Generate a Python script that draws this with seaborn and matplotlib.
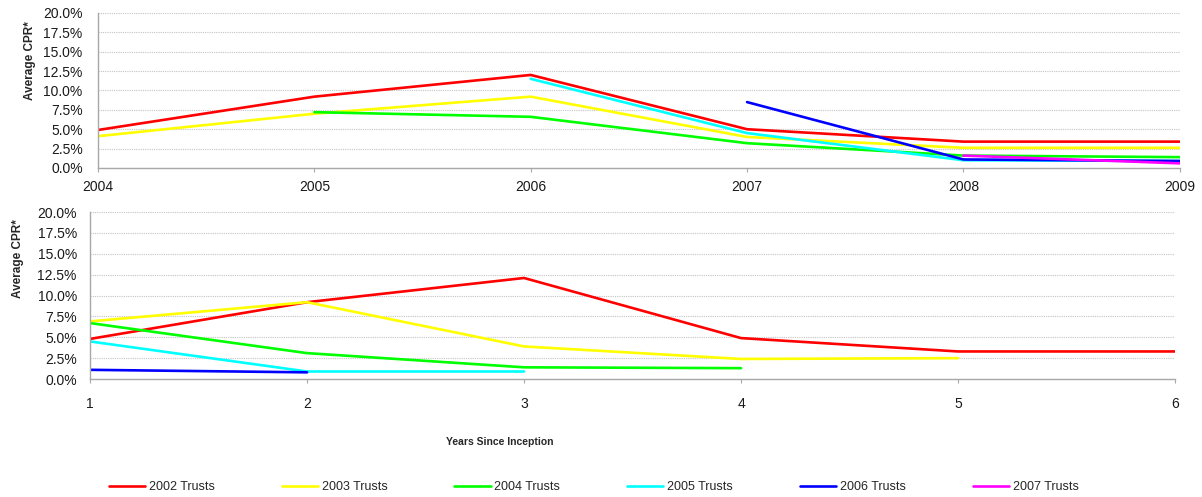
import numpy as np
import pandas as pd
import matplotlib
matplotlib.use("Agg")
import matplotlib.pyplot as plt
import seaborn as sns
from matplotlib.ticker import PercentFormatter

# --- data (CPR in %) ---
years = [2004, 2005, 2006, 2007, 2008, 2009]
top_2002 = [4.9, 9.2, 12.0, 5.0, 3.4, 3.4]
top_2003 = [4.1, 7.0, 9.2, 4.0, 2.6, 2.6]
top_2004 = [np.nan, 7.2, 6.6, 3.2, 1.6, 1.4]
top_2005 = [np.nan, np.nan, 11.5, 4.5, 1.0, 0.9]
top_2006 = [np.nan, np.nan, np.nan, 8.5, 1.1, 0.9]
top_2007 = [np.nan, np.nan, np.nan, np.nan, 1.6, 0.6]

seasoning = [1, 2, 3, 4, 5, 6]
bot_2002 = [4.8, 9.2, 12.1, 4.9, 3.3, 3.3]
bot_2003 = [6.9, 9.2, 3.9, 2.4, 2.5, np.nan]
bot_2004 = [6.7, 3.1, 1.4, 1.3, np.nan, np.nan]
bot_2005 = [4.5, 0.9, 0.9, np.nan, np.nan, np.nan]
bot_2006 = [1.1, 0.8, np.nan, np.nan, np.nan, np.nan]
bot_2007 = [1.6, np.nan, np.nan, np.nan, np.nan, np.nan]

trusts = ["2002 Trusts", "2003 Trusts", "2004 Trusts",
          "2005 Trusts", "2006 Trusts", "2007 Trusts"]
colors = ["#ff0000", "#ffff00", "#00ff00", "#00ffff", "#0000ff", "#ff00ff"]

top_df = pd.DataFrame({"x": years * 6,
                       "cpr": top_2002 + top_2003 + top_2004 + top_2005 + top_2006 + top_2007,
                       "trust": np.repeat(trusts, 6)}).dropna()
bot_df = pd.DataFrame({"x": seasoning * 6,
                       "cpr": bot_2002 + bot_2003 + bot_2004 + bot_2005 + bot_2006 + bot_2007,
                       "trust": np.repeat(trusts, 6)}).dropna()

sns.set_style("white")
plt.rcParams['font.family'] = ['Liberation Sans', 'DejaVu Sans']
palette = dict(zip(trusts, colors))

fig = plt.figure(figsize=(12.02, 4.97), dpi=100)
ax1 = fig.add_axes([0.0815, 0.662, 0.900, 0.312])
ax2 = fig.add_axes([0.0749, 0.2374, 0.9027, 0.336])

sns.lineplot(data=top_df, x="x", y="cpr", hue="trust", hue_order=trusts,
             palette=palette, lw=1.9, ax=ax1, legend=False, sort=True)
sns.lineplot(data=bot_df, x="x", y="cpr", hue="trust", hue_order=trusts,
             palette=palette, lw=1.9, ax=ax2, legend=False, sort=True)

for ax, xs, xpad, ypad in [(ax1, years, 6, 7.5), (ax2, seasoning, 10, 6)]:
    ax.set_xlim(xs[0], xs[-1])
    ax.set_ylim(0, 20)
    ax.set_xticks(xs)
    ax.set_yticks(np.arange(0, 20.1, 2.5))
    ax.yaxis.set_major_formatter(PercentFormatter(decimals=1))
    ax.grid(axis="y", color="#c4c4c4", ls=(0, (1, 1)), lw=0.8)
    ax.set_axisbelow(True)
    for s in ["top", "right"]:
        ax.spines[s].set_visible(False)
    for s in ["left", "bottom"]:
        ax.spines[s].set_color("#a8a8a8")
        ax.spines[s].set_linewidth(1.0)
    ax.tick_params(axis="x", bottom=True, length=3, color="#a8a8a8",
                   labelsize=10, pad=xpad, labelcolor="#1a1a1a")
    ax.tick_params(axis="y", left=False, labelsize=10, pad=ypad,
                   labelcolor="#1a1a1a")
    ax.set_xlabel("")
    ax.set_ylabel("")

fig.text(0.025, 0.879, "Average CPR*", rotation=90, fontsize=8.5,
         fontweight="bold", ha="center", va="center")
fig.text(0.015, 0.479, "Average CPR*", rotation=90, fontsize=8.5,
         fontweight="bold", ha="center", va="center")
fig.text(0.416, 0.11, "Years Since Inception", fontsize=7.5,
         fontweight="bold", ha="center", va="center")

handles = [plt.Line2D([], [], color=c, lw=1.9) for c in colors]
fig.legend(handles, trusts, loc="center", bbox_to_anchor=(0.494, 0.02),
           ncol=6, frameon=False, fontsize=9, handlelength=2.9,
           handletextpad=0.3, columnspacing=5.35)

fig.savefig("out.png", dpi=100)
